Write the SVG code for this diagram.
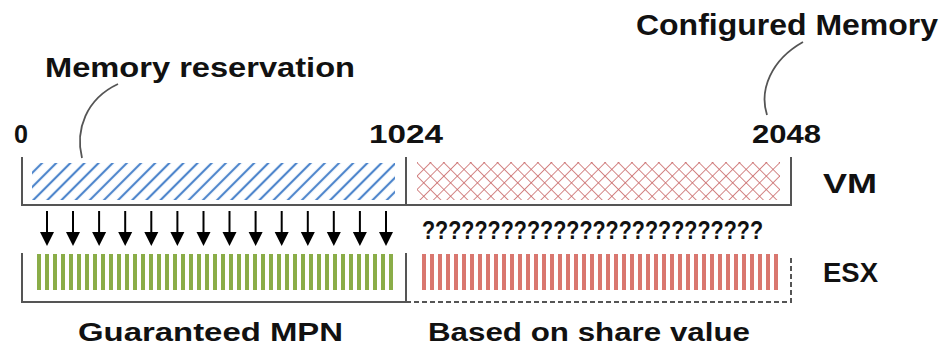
<svg xmlns="http://www.w3.org/2000/svg" width="949" height="347" viewBox="0 0 949 347">
<style>
  text { font-family: "Liberation Sans", "DejaVu Sans", sans-serif; font-weight: bold; fill: #111; }
  .frame { fill: none; stroke: #555; stroke-width: 2; }
  .dash { fill: none; stroke: #555; stroke-width: 2; stroke-dasharray: 5 3; }
  .leader { fill: none; stroke: #555; stroke-width: 1.8; }
  .arrow line { stroke: #000; stroke-width: 2; }
  .arrow polygon { fill: #000; }
</style>
<defs>
  <pattern id="blueHatch" patternUnits="userSpaceOnUse" width="10" height="10" patternTransform="rotate(45)">
    <line x1="5" y1="0" x2="5" y2="10" stroke="#4f86cc" stroke-width="2.2"/>
  </pattern>
  <pattern id="redCross" patternUnits="userSpaceOnUse" width="9.5" height="9.5" patternTransform="translate(417,162) rotate(45)">
    <line x1="0" y1="0" x2="0" y2="9.5" stroke="#c96a6a" stroke-width="1.6"/>
    <line x1="0" y1="0" x2="9.5" y2="0" stroke="#c96a6a" stroke-width="1.6"/>
  </pattern>
  <pattern id="greenStripes" patternUnits="userSpaceOnUse" x="37" y="0" width="8" height="10">
    <rect x="0" y="0" width="4" height="10" fill="#8aad48"/>
  </pattern>
  <pattern id="redStripes" patternUnits="userSpaceOnUse" x="422" y="0" width="8" height="10">
    <rect x="0" y="0" width="4" height="10" fill="#d9776f"/>
  </pattern>
</defs>

<g id="vm-bar">
  <rect x="32" y="163" width="363" height="37" fill="url(#blueHatch)"/>
  <rect x="417" y="162" width="363" height="38" fill="url(#redCross)"/>
  <path class="frame" d="M22,157 V205 H791 V157"/>
  <line class="frame" x1="406" y1="157" x2="406" y2="205"/>
</g>

<g id="esx-bar">
  <rect x="37" y="254" width="356" height="36" fill="url(#greenStripes)"/>
  <rect x="422" y="254" width="356" height="36" fill="url(#redStripes)"/>
  <path class="frame" d="M22,253 V302 H406 V253"/>
  <path class="dash" d="M406,302 H791 V257"/>
</g>

<g id="connectors">
  <path class="leader" d="M82,158 C75,130 86,99 118,84"/>
  <path class="leader" d="M767,115 C759,90 771,60 803,42"/>
  <g class="arrow">
    <line x1="47" y1="211" x2="47" y2="234"/><polygon points="40,232 54,232 47,246"/>
    <line x1="73" y1="211" x2="73" y2="234"/><polygon points="66,232 80,232 73,246"/>
    <line x1="99.1" y1="211" x2="99.1" y2="234"/><polygon points="92.1,232 106.1,232 99.1,246"/>
    <line x1="125.2" y1="211" x2="125.2" y2="234"/><polygon points="118.2,232 132.2,232 125.2,246"/>
    <line x1="151.3" y1="211" x2="151.3" y2="234"/><polygon points="144.3,232 158.3,232 151.3,246"/>
    <line x1="177.4" y1="211" x2="177.4" y2="234"/><polygon points="170.4,232 184.4,232 177.4,246"/>
    <line x1="203.5" y1="211" x2="203.5" y2="234"/><polygon points="196.5,232 210.5,232 203.5,246"/>
    <line x1="229.5" y1="211" x2="229.5" y2="234"/><polygon points="222.5,232 236.5,232 229.5,246"/>
    <line x1="255.6" y1="211" x2="255.6" y2="234"/><polygon points="248.6,232 262.6,232 255.6,246"/>
    <line x1="281.7" y1="211" x2="281.7" y2="234"/><polygon points="274.7,232 288.7,232 281.7,246"/>
    <line x1="307.8" y1="211" x2="307.8" y2="234"/><polygon points="300.8,232 314.8,232 307.8,246"/>
    <line x1="333.8" y1="211" x2="333.8" y2="234"/><polygon points="326.8,232 340.8,232 333.8,246"/>
    <line x1="359.9" y1="211" x2="359.9" y2="234"/><polygon points="352.9,232 366.9,232 359.9,246"/>
    <line x1="386" y1="211" x2="386" y2="234"/><polygon points="379,232 393,232 386,246"/>
  </g>
</g>

<g id="labels">
  <text x="45" y="77" font-size="28" textLength="310" lengthAdjust="spacingAndGlyphs">Memory reservation</text>
  <text x="636" y="35" font-size="29" textLength="302" lengthAdjust="spacingAndGlyphs">Configured Memory</text>
  <text x="14" y="143" font-size="25" textLength="14" lengthAdjust="spacingAndGlyphs">0</text>
  <text x="369" y="143" font-size="25" textLength="74" lengthAdjust="spacingAndGlyphs">1024</text>
  <text x="752" y="143" font-size="25" textLength="69" lengthAdjust="spacingAndGlyphs">2048</text>
  <text x="823" y="193" font-size="28" textLength="54" lengthAdjust="spacingAndGlyphs">VM</text>
  <text x="823" y="282" font-size="28" textLength="55" lengthAdjust="spacingAndGlyphs">ESX</text>
  <text x="422" y="239" font-size="25" textLength="341" lengthAdjust="spacingAndGlyphs">??????????????????????????</text>
  <text x="78" y="341" font-size="26" textLength="265" lengthAdjust="spacingAndGlyphs">Guaranteed MPN</text>
  <text x="428" y="341" font-size="26" textLength="322" lengthAdjust="spacingAndGlyphs">Based on share value</text>
</g>
</svg>
